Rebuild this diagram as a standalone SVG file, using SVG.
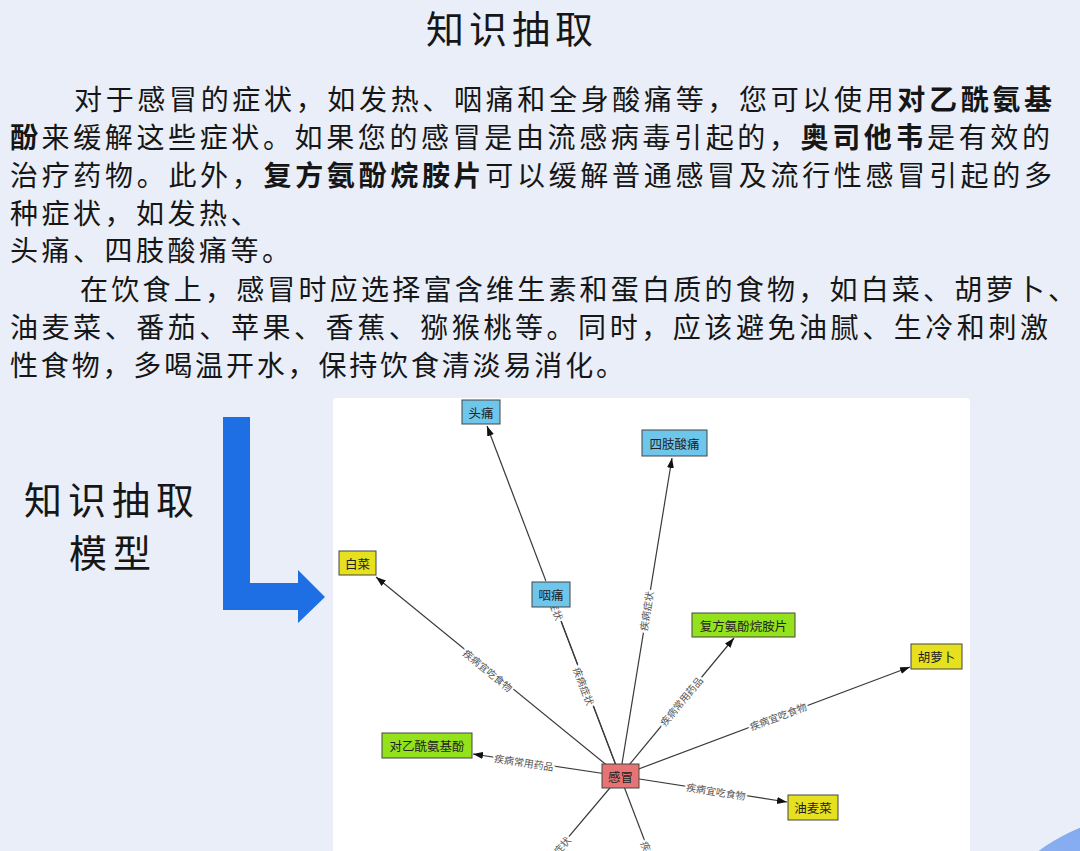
<svg xmlns="http://www.w3.org/2000/svg" width="1080" height="851" viewBox="0 0 1080 851">
<style>
.p{font-family:"Noto Sans CJK SC","Noto Sans",sans-serif;font-size:28px;fill:#161616}
.b{font-weight:bold}
.h{font-family:"Noto Sans CJK SC","Noto Sans",sans-serif;fill:#161616}
.e{stroke:#3a3a3a;stroke-width:1.2;fill:none}
.lb{font-family:"Noto Sans CJK SC","Noto Sans",sans-serif;font-size:10px;fill:#555;text-anchor:middle;dominant-baseline:central;stroke:#fff;stroke-width:4;paint-order:stroke}
.n rect{stroke:#444;stroke-width:1}
.n text{font-family:"Noto Sans CJK SC","Noto Sans",sans-serif;font-size:12.5px;fill:#222;text-anchor:middle;dominant-baseline:central}
.blue{fill:#6ec6ea}.yel{fill:#e6e01e}.grn{fill:#93e21c}.red{fill:#e77474}
</style>
<defs>
<marker id="ah" markerUnits="userSpaceOnUse" markerWidth="11" markerHeight="8" refX="10" refY="3.5" orient="auto"><path d="M0,0 L10,3.5 L0,7 z" fill="#111"/></marker>
<radialGradient id="cg" cx="0.2" cy="0.2" r="0.9"><stop offset="0" stop-color="#8fb3f3"/><stop offset="1" stop-color="#5b8de8"/></radialGradient>
</defs>
<rect width="1080" height="851" fill="#e9eef8"/>
<circle cx="1150" cy="1000" r="186" fill="url(#cg)"/>
<g id="title"><text class="h" x="512" y="43" font-size="38" letter-spacing="5" text-anchor="middle">知识抽取</text></g>
<g id="paragraph">
<text class="p" x="74" y="110" textLength="978" lengthAdjust="spacing">对于感冒的症状，如发热、咽痛和全身酸痛等，您可以使用<tspan class="b">对乙酰氨基</tspan></text>
<text class="p" x="10" y="148" textLength="1040" lengthAdjust="spacing"><tspan class="b">酚</tspan>来缓解这些症状。如果您的感冒是由流感病毒引起的，<tspan class="b">奥司他韦</tspan>是有效的</text>
<text class="p" x="10" y="186" textLength="1042" lengthAdjust="spacing">治疗药物。此外，<tspan class="b">复方氨酚烷胺片</tspan>可以缓解普通感冒及流行性感冒引起的多</text>
<text class="p" x="10" y="224" letter-spacing="3.5">种症状，如发热、</text>
<text class="p" x="10" y="261" letter-spacing="3.5">头痛、四肢酸痛等。</text>
<text class="p" x="80" y="300" textLength="996" lengthAdjust="spacing">在饮食上，感冒时应选择富含维生素和蛋白质的食物，如白菜、胡萝卜、</text>
<text class="p" x="10" y="338" textLength="1038" lengthAdjust="spacing">油麦菜、番茄、苹果、香蕉、猕猴桃等。同时，应该避免油腻、生冷和刺激</text>
<text class="p" x="10" y="376" textLength="614" lengthAdjust="spacing">性食物，多喝温开水，保持饮食清淡易消化。</text>
</g>
<g id="model-label">
<text class="h" x="112" y="514" font-size="38" letter-spacing="6" text-anchor="middle">知识抽取</text>
<text class="h" x="113" y="567" font-size="38" letter-spacing="6" text-anchor="middle">模型</text>
</g>
<g id="blue-arrow"><polygon points="223,417 250,417 250,583 298,583 298,570 325,597 298,623 298,610 223,610" fill="#1d6fe3"/></g>
<rect id="panel" x="333" y="398" width="637" height="470" rx="4" fill="#ffffff"/>
<g id="connectors">
<line class="e" x1="620" y1="776" x2="487" y2="426" marker-end="url(#ah)"/>
<line class="e" x1="620" y1="776" x2="556" y2="608" marker-end="url(#ah)"/>
<line class="e" x1="620" y1="776" x2="672" y2="458" marker-end="url(#ah)"/>
<line class="e" x1="620" y1="776" x2="376" y2="577" marker-end="url(#ah)"/>
<line class="e" x1="620" y1="776" x2="473" y2="754" marker-end="url(#ah)"/>
<line class="e" x1="620" y1="776" x2="734" y2="638" marker-end="url(#ah)"/>
<line class="e" x1="620" y1="776" x2="910" y2="667" marker-end="url(#ah)"/>
<line class="e" x1="620" y1="776" x2="787" y2="802" marker-end="url(#ah)"/>
<line class="e" x1="620" y1="776" x2="490" y2="930"/>
<line class="e" x1="620" y1="776" x2="684" y2="944"/>
<text class="lb" transform="translate(553,601) rotate(69)">疾病症状</text>
<text class="lb" transform="translate(584,686) rotate(69)">疾病症状</text>
<text class="lb" transform="translate(646,611) rotate(-80.7)">疾病症状</text>
<text class="lb" transform="translate(488,670) rotate(39.2)">疾病宜吃食物</text>
<text class="lb" transform="translate(524,762) rotate(8.5)">疾病常用药品</text>
<text class="lb" transform="translate(681,701) rotate(-50.4)">疾病常用药品</text>
<text class="lb" transform="translate(778,716) rotate(-20.6)">疾病宜吃食物</text>
<text class="lb" transform="translate(716,791) rotate(8.9)">疾病宜吃食物</text>
<text class="lb" transform="translate(555,853) rotate(-49.8)">疾病症状</text>
<text class="lb" transform="translate(652,860) rotate(67.4)">疾病症状</text>
</g>
<g id="node-toutong" class="n"><rect class="blue" x="462" y="400" width="38" height="24"/><text x="481" y="412">头痛</text></g>
<g id="node-sizhi" class="n"><rect class="blue" x="642" y="430" width="65" height="26"/><text x="674.5" y="443">四肢酸痛</text></g>
<g id="node-baicai" class="n"><rect class="yel" x="339" y="551" width="37" height="24"/><text x="357.5" y="563">白菜</text></g>
<g id="node-yantong" class="n"><rect class="blue" x="532" y="582" width="38" height="25"/><text x="551" y="594.5">咽痛</text></g>
<g id="node-fufang" class="n"><rect class="grn" x="692" y="613" width="103" height="24"/><text x="743.5" y="625">复方氨酚烷胺片</text></g>
<g id="node-huluobo" class="n"><rect class="yel" x="911" y="644" width="51" height="25"/><text x="936.5" y="656.5">胡萝卜</text></g>
<g id="node-duiyi" class="n"><rect class="grn" x="382" y="733" width="90" height="25"/><text x="427" y="745.5">对乙酰氨基酚</text></g>
<g id="node-ganmao" class="n"><rect class="red" x="602" y="764" width="37" height="24"/><text x="620.5" y="776">感冒</text></g>
<g id="node-youmaicai" class="n"><rect class="yel" x="788" y="795" width="50" height="25"/><text x="813" y="807.5">油麦菜</text></g>
</svg>
